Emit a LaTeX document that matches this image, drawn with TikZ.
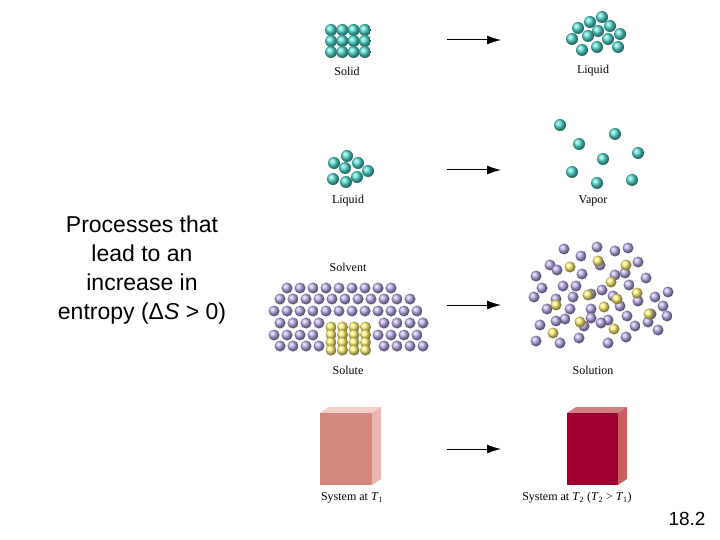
\documentclass[tikz,border=0pt]{standalone}
\usetikzlibrary{arrows.meta}
\usepackage{fontspec}
\setmainfont{Liberation Serif}
\newfontfamily\arialf{Liberation Sans}
\definecolor{tealb}{HTML}{50DCD2}
\definecolor{purb}{HTML}{B8A8E8}
\definecolor{yelb}{HTML}{FFF070}
\begin{document}
\begin{tikzpicture}[x=1pt,y=-1pt,
  tb/.style={shading=ball,ball color=tealb},
  pb/.style={shading=ball,ball color=purb},
  yb/.style={shading=ball,ball color=yelb},
  lab/.style={font=\fontsize{12}{13}\selectfont,inner sep=0pt},
  arr/.style={-{Latex[length=14pt,width=9pt]},line width=1pt}]
\useasboundingbox (0,0) rectangle (720,540);
% solid
\foreach \i in {0,1,2,3}\foreach \j in {0,1,2}
  \shade[tb] (331+\i*11.3,30+\j*11) circle (6);
\node[lab] (solid) at (347,71) {Solid};
\foreach \p in {(602,17),(590,22),(578,28),(610,26),(598,31),(620,34),(588,36),(572,39),(608,39),(582,50),(597,47),(618,47)}
  \shade[tb] \p circle (6);
\node[lab] (liq1) at (593,71) {Liquid};
\foreach \p in {(347,156),(334,163),(358,163),(345,168),(368,171),(333,179),(357,177),(346,182)}
  \shade[tb] \p circle (6);
\node[lab] (liq2) at (348,201) {Liquid};
\foreach \p in {(560,125),(615,134),(579,144),(638,153),(603,159),(572,172),(632,180),(597,183)}
  \shade[tb] \p circle (6);
\node[lab] (vap) at (593,201) {Vapor};
% solvent
\foreach \y/\off/\xa/\xb in {288/0/288/398, 299/6/280/412, 311/0/274/424, 323/6/274/424, 335/0/274/424, 346/6/274/424}{
  \foreach \x in {274,287,...,430}{
    \pgfmathsetmacro\xx{\x+\off}
    \pgfmathparse{(\xx>=\xa-1)&&(\xx<=\xb+1)&&!((\xx>323)&&(\xx<374)&&(\y>318))?1:0}
    \ifnum\pgfmathresult=1 \shade[pb] (\xx,\y) circle (5.5);\fi
  }}
\foreach \i in {0,1,2,3}\foreach \j in {0,1,2,3}
  \shade[yb] (331+\i*11.5,327+\j*7.7) circle (5.5);
\node[lab] (solv) at (348,267) {Solvent};
\node[lab] (solu) at (348,370) {Solute};
% solution
\foreach \p in {(564,249),(597,247),(615,251),(628,248),(581,256),(550,265),(600,265),(638,262),(536,276),(557,270),(582,274),(615,275),(625,273),(646,278),(542,288),(563,286),(576,286),(602,290),(629,285),(668,292),(534,297),(556,299),(573,297),(591,294),(613,296),(638,301),(655,297),(547,309),(570,309),(591,309),(620,306),(627,316),(663,306),(565,319),(591,318),(608,320),(635,326),(651,314),(667,316),(540,325),(556,321),(584,326),(601,323),(648,322),(536,341),(560,343),(579,338),(608,343),(626,337),(658,330)}
  \shade[pb] \p circle (5.5);
\foreach \p in {(570,267),(598,261),(626,265),(611,282),(588,295),(637,293),(556,305),(604,307),(649,314),(580,322),(614,329),(553,333),(617,299)}
  \shade[yb] \p circle (5.5);
\node[lab] (soln) at (593,370) {Solution};
% boxes
\fill[fill={rgb,255:red,242;green,208;blue,200}] (320,413) -- (329,407) -- (381,407) -- (372,413) -- cycle;
\fill[fill={rgb,255:red,232;green,184;blue,176}] (372,413) -- (381,407) -- (381,479) -- (372,485) -- cycle;
\fill[fill={rgb,255:red,212;green,135;blue,125}] (320,413) rectangle (372,485);
\node[lab] (s1) at (352,498) {System at \textit{T}\textsubscript{1}};
\fill[fill={rgb,255:red,208;green,128;blue,128}] (567,413) -- (576,407) -- (627,407) -- (618,413) -- cycle;
\fill[fill={rgb,255:red,200;green,96;blue,96}] (618,413) -- (627,407) -- (627,479) -- (618,485) -- cycle;
\fill[fill={rgb,255:red,160;green,0;blue,48}] (567,413) rectangle (618,485);
\node[lab] (s2) at (577,498) {System at \textit{T}\textsubscript{2} (\textit{T}\textsubscript{2} > \textit{T}\textsubscript{1})};
% arrows
\foreach \y/\n in {40/a,170/b,305/c,449/d}{
  \coordinate (\n1) at (447,\y); \coordinate (\n2) at (501,\y);
  \draw[arr] (\n1) -- (\n2);}
\node[font=\arialf\fontsize{23}{29}\selectfont,align=center] (txt) at (142,270)
  {Processes that\\lead to an\\increase in\\entropy (Δ\textit{S} > 0)};
\node[font=\arialf\fontsize{19}{20}\selectfont] (num) at (687,519) {18.2};
\end{tikzpicture}
\end{document}
